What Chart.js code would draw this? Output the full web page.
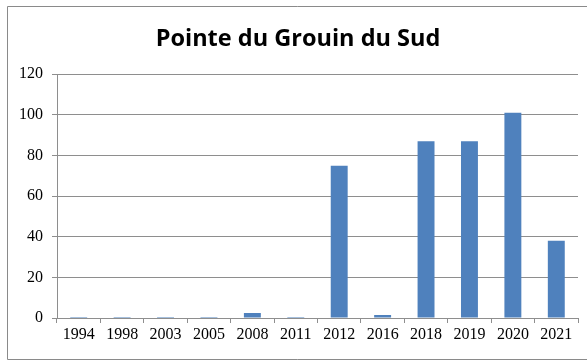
<!DOCTYPE html>
<html>
<head>
<meta charset="utf-8">
<script src="https://cdn.jsdelivr.net/npm/chart.js@4/dist/chart.umd.min.js"></script>
<style>
  html, body { margin: 0; padding: 0; background: #ffffff; }
  #wrap { position: relative; width: 587px; height: 361px; }
</style>
</head>
<body>
<div id="wrap"><canvas id="c" width="587" height="361"></canvas></div>
<script>
// Survey years and yearly counts
const years = ['1994', '1998', '2003', '2005', '2008', '2011', '2012', '2016', '2018', '2019', '2020', '2021'];
const counts = [0.5, 0.5, 0.5, 0.5, 2.5, 0.5, 75, 1.5, 87, 87, 101, 38];

// Value axis range
const yMin = 0;
const yMax = 120;
const yStep = 20;

const gridGrey = '#8e8e8e';

// Thin grey frame around the whole figure
const framePlugin = {
  id: 'frame',
  beforeDraw(chart) {
    const ctx = chart.ctx;
    ctx.save();
    ctx.fillStyle = '#ffffff';
    ctx.fillRect(0, 0, chart.width, chart.height);
    ctx.strokeStyle = '#8a8a8a';
    ctx.lineWidth = 1;
    ctx.beginPath();
    ctx.moveTo(chart.width, 6.5);
    ctx.lineTo(7.5, 6.5);
    ctx.lineTo(7.5, 359.5);
    ctx.lineTo(chart.width, 359.5);
    ctx.stroke();
    ctx.restore();
  }
};

new Chart(document.getElementById('c'), {
  type: 'bar',
  data: {
    labels: years,
    datasets: [{
      data: counts,
      backgroundColor: '#4f81bd',
      borderWidth: 0,
      barPercentage: 0.39,
      categoryPercentage: 1.0
    }]
  },
  options: {
    responsive: false,
    animation: false,
    layout: { padding: { left: 18, right: 9, top: 0, bottom: 0 } },
    plugins: {
      legend: { display: false },
      tooltip: { enabled: false },
      title: {
        display: true,
        text: 'Pointe du Grouin du Sud',
        color: '#000000',
        font: { family: 'Open Sans', size: 23.5, weight: 'bold', lineHeight: 1.2 },
        padding: { top: 25, bottom: 21 }
      }
    },
    scales: {
      x: {
        afterFit(scale) { scale.height = 43; },
        border: { display: true, color: gridGrey, width: 1 },
        grid: {
          display: true,
          drawOnChartArea: false,
          drawTicks: true,
          tickLength: 5,
          offset: true,
          color: gridGrey
        },
        ticks: {
          color: '#000000',
          padding: 2,
          maxRotation: 0,
          autoSkip: false,
          font: { family: 'Liberation Serif', size: 16 }
        }
      },
      y: {
        min: yMin,
        max: yMax,
        afterFit(scale) { scale.width = 39; },
        border: { display: true, color: gridGrey, width: 1 },
        grid: {
          color: gridGrey,
          lineWidth: 1,
          drawTicks: true,
          tickLength: 5
        },
        ticks: {
          stepSize: yStep,
          color: '#000000',
          padding: 9,
          font: { family: 'Liberation Serif', size: 16 }
        }
      }
    }
  },
  plugins: [framePlugin]
});
</script>
</body>
</html>
